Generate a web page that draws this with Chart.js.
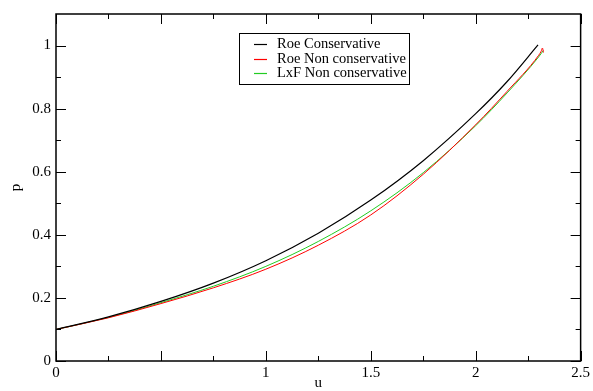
<!DOCTYPE html>
<html>
<head>
<meta charset="utf-8">
<script src="https://cdn.jsdelivr.net/npm/chart.js@4.4.1/dist/chart.umd.min.js"></script>
<style>
  html,body{margin:0;padding:0;background:#fff;}
</style>
</head>
<body>
<canvas id="chart" width="593" height="391"></canvas>
<script>
// values
const seriesNames = ['Roe Conservative', 'Roe Non conservative', 'LxF Non conservative'];
const lineColors = ['#000000', '#ff0000', '#22cc22'];

const roeConsU = [0, 0.25, 0.5, 0.75, 1.0, 1.25, 1.5, 1.75, 2.0, 2.15, 2.297];
const roeConsP = [0.100, 0.140, 0.189, 0.247, 0.318, 0.405, 0.510, 0.635, 0.784, 0.886, 1.002];

const roeNonU = [0, 0.25, 0.5, 0.75, 1.0, 1.25, 1.5, 1.75, 2.0, 2.15, 2.3, 2.312, 2.318, 2.323];
const roeNonP = [0.100, 0.137, 0.182, 0.232, 0.291, 0.367, 0.463, 0.592, 0.749, 0.855, 0.969, 0.982, 0.992, 0.978];

const lxfNonU = [0, 0.25, 0.5, 0.75, 1.0, 1.25, 1.5, 1.75, 2.0, 2.15, 2.3, 2.322];
const lxfNonP = [0.100, 0.138, 0.185, 0.237, 0.300, 0.379, 0.476, 0.597, 0.746, 0.850, 0.964, 0.984];

const xMajor = [0, 0.5, 1, 1.5, 2, 2.5];
const xLabeled = [0, 1, 1.5, 2, 2.5];
const xMinor = [0.25, 0.75, 1.25, 1.75, 2.25];
const yMajor = [0, 0.2, 0.4, 0.6, 0.8, 1];
const yMinor = [0.1, 0.3, 0.5, 0.7, 0.9];

const serif = "'Liberation Serif', 'DejaVu Serif', serif";
const pts = (us, ps) => us.map((u, i) => ({x: u, y: ps[i]}));

// inward ticks on all four sides, the frame and the boxed legend
const frameTicks = {
  id: 'frameTicks',
  afterDatasetsDraw(chart) {
    const {ctx, chartArea: a, scales: {x, y}} = chart;
    ctx.save();
    ctx.strokeStyle = '#000';
    ctx.lineWidth = 1;
    ctx.beginPath();
    const vx = (list, len) => list.forEach(v => {
      const px = Math.round(x.getPixelForValue(v)) + 0.5;
      ctx.moveTo(px, a.bottom); ctx.lineTo(px, a.bottom - len);
      ctx.moveTo(px, a.top); ctx.lineTo(px, a.top + len);
    });
    const hy = (list, len) => list.forEach(v => {
      const py = Math.round(y.getPixelForValue(v)) + 0.5;
      ctx.moveTo(a.left, py); ctx.lineTo(a.left + len, py);
      ctx.moveTo(a.right, py); ctx.lineTo(a.right - len, py);
    });
    vx(xMajor, 10); vx(xMinor, 5);
    hy(yMajor, 10); hy(yMinor, 5);
    ctx.stroke();

    ctx.lineWidth = 1.5;
    ctx.strokeRect(a.left, a.top, a.right - a.left, a.bottom - a.top);

    // legend
    const lx = 239.5, ly = 33.5, lw = 170, lh = 51;
    ctx.fillStyle = '#fff';
    ctx.fillRect(lx, ly, lw, lh);
    ctx.lineWidth = 1;
    ctx.strokeStyle = '#000';
    ctx.strokeRect(lx, ly, lw, lh);
    ctx.font = '14.5px ' + serif;
    ctx.textBaseline = 'middle';
    seriesNames.forEach((name, i) => {
      const ry = Math.round(44 + i * 14.6) + 0.5;
      ctx.strokeStyle = lineColors[i];
      ctx.lineWidth = 1.2;
      ctx.beginPath();
      ctx.moveTo(254, ry);
      ctx.lineTo(267, ry);
      ctx.stroke();
      ctx.fillStyle = '#000';
      ctx.fillText(name, 277, ry);
    });
    ctx.restore();
  }
};

new Chart(document.getElementById('chart'), {
  type: 'line',
  data: {
    datasets: [
      {label: seriesNames[0], data: pts(roeConsU, roeConsP), borderColor: lineColors[0], borderWidth: 1.2},
      {label: seriesNames[1], data: pts(roeNonU, roeNonP), borderColor: lineColors[1], borderWidth: 1},
      {label: seriesNames[2], data: pts(lxfNonU, lxfNonP), borderColor: lineColors[2], borderWidth: 1}
    ]
  },
  options: {
    responsive: false,
    animation: false,
    layout: {padding: {left: 0, right: 11, top: 8, bottom: 0}},
    plugins: {legend: {display: false}, tooltip: {enabled: false}},
    datasets: {line: {pointRadius: 0, cubicInterpolationMode: 'monotone', fill: false}},
    scales: {
      x: {
        type: 'linear', min: 0, max: 2.5,
        afterBuildTicks: s => { s.ticks = xMajor.map(v => ({value: v})); },
        afterFit: s => { s.height = 30; },
        grid: {display: false, drawTicks: false},
        border: {display: false},
        ticks: {
          padding: 3, color: '#000', maxRotation: 0, autoSkip: false,
          font: {family: serif, size: 15},
          callback: v => xLabeled.includes(v) ? String(v) : ''
        },
        title: {display: true, text: 'u', color: '#000', font: {family: serif, size: 15, lineHeight: 1.1}, padding: {top: 0, bottom: 0}}
      },
      y: {
        type: 'linear', min: 0, max: 1.1,
        afterBuildTicks: s => { s.ticks = yMajor.map(v => ({value: v})); },
        afterFit: s => { s.width = 56; },
        grid: {display: false, drawTicks: false},
        border: {display: false},
        ticks: {padding: 5, color: '#000', font: {family: serif, size: 15}, callback: v => String(v)},
        title: {display: true, text: 'p', color: '#000', font: {family: serif, size: 15, lineHeight: 1.2}, padding: {top: 7, bottom: 0}}
      }
    }
  },
  plugins: [frameTicks]
});
</script>
</body>
</html>
